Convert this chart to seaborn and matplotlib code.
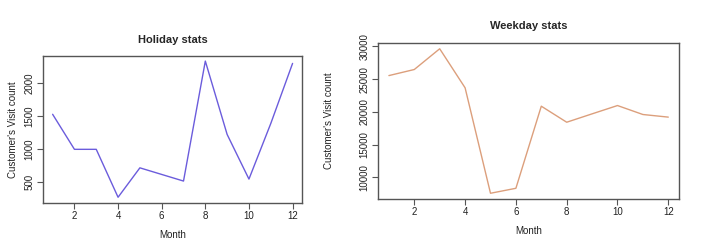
import matplotlib
matplotlib.use("Agg")
import matplotlib.pyplot as plt
import seaborn as sns
import pandas as pd

months = list(range(1, 13))
holiday_visits = [1530, 1000, 1000, 275, 720, 620, 520, 2335, 1225, 550, 1390, 2300]
weekday_visits = [25550, 26480, 29650, 23680, 7560, 8320, 20870, 18420, 19700, 20970, 19600, 19200]

x_ticks = [2, 4, 6, 8, 10, 12]
holiday_yticks = [500, 1000, 1500, 2000]
weekday_yticks = [10000, 15000, 20000, 25000, 30000]

sns.set_style("white")
plt.rcParams['font.family'] = ['Liberation Sans', 'DejaVu Sans']

df_h = pd.DataFrame({"Month": months, "Visits": holiday_visits})
df_w = pd.DataFrame({"Month": months, "Visits": weekday_visits})

fig = plt.figure(figsize=(7.1, 2.43), dpi=100)
ax1 = fig.add_axes([0.0606, 0.1646, 0.365, 0.605])
ax2 = fig.add_axes([0.532, 0.181, 0.425, 0.642])

def style(ax, yticks, title, title_pad, ylabelpad):
    ax.set_xticks(x_ticks)
    ax.set_yticks(yticks)
    ax.set_xlim(0.56, 12.44)
    for s in ax.spines.values():
        s.set_visible(True)
        s.set_color('#555555')
        s.set_linewidth(1.0)
    ax.tick_params(axis='both', direction='out', length=4, width=0.8,
                   color='#555555', labelsize=7, labelcolor='#222222',
                   bottom=True, left=True, pad=2)
    for lbl in ax.get_yticklabels():
        lbl.set_rotation(90)
        lbl.set_va('center')
    ax.set_xlabel("Month", fontsize=7, color='#222222', labelpad=6)
    ax.set_ylabel("Customer's Visit count", fontsize=7, color='#222222', labelpad=ylabelpad)
    ax.set_title(title, fontsize=8, fontweight='bold', pad=title_pad)

sns.lineplot(data=df_h, x="Month", y="Visits", ax=ax1, color='#6b5cdc', linewidth=1.0)
ax1.set_ylim(188, 2412)
style(ax1, holiday_yticks, "Holiday stats", 9, 5)

sns.lineplot(data=df_w, x="Month", y="Visits", ax=ax2, color='#dc9f7c', linewidth=1.0)
ax2.set_ylim(6680, 30530)
style(ax2, weekday_yticks, "Weekday stats", 10, 18)

fig.savefig("out.png", dpi=100)
